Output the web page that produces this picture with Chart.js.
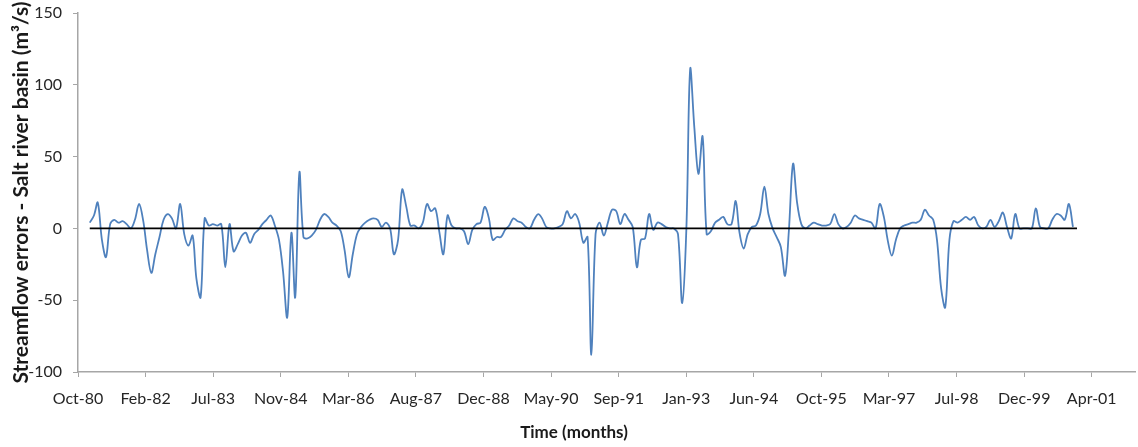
<!DOCTYPE html>
<html>
<head>
<meta charset="utf-8">
<script src="https://cdn.jsdelivr.net/npm/chart.js@4"></script>
<style>
  html, body { margin: 0; padding: 0; background: #fff; }
  #wrap { width: 1138px; height: 447px; position: relative; }
</style>
</head>
<body>
<div id="wrap"><canvas id="c"></canvas></div>
<script>
// ---- data (monthly streamflow errors, Jan 1981 - Dec 2000) ----
const startYear = 1981;
const errors = [
  /*1981*/ 4, 9, 18, -8, -20, 3, 6, 4, 5, 3, 0, 6,
  /*1982*/ 17, 5, -15, -31, -18, -6, 6, 10, 7, 0, 17, -4,
  /*1983*/ -12, -5, -35, -48, 7, 2, 3, 2, 3, -27, 3, -16,
  /*1984*/ -11, -5, -3, -10, -4, -1, 3, 6, 9, 2, -8, -30,
  /*1985*/ -62, -3, -48, 39, -6, -7, -5, -1, 6, 10, 8, 4,
  /*1986*/ 2, -2, -15, -34, -18, -4, 1, 4, 6, 7, 6, 1,
  /*1987*/ 4, 0, -18, -8, 27, 15, 2, 2, 0, 4, 17, 12,
  /*1988*/ 14, -3, -18, 9, 2, 0, 0, -2, -11, -1, 3, 4,
  /*1989*/ 15, 7, -8, -6, -6, -1, 2, 7, 5, 4, 1, 0,
  /*1990*/ 6, 10, 7, 1, 0, 0, 1, 3, 12, 7, 10, 4,
  /*1991*/ -10, -6, -88, -4, 4, -5, 4, 13, 12, 3, 10, 6,
  /*1992*/ 1, -27, -8, -7, 10, -1, 4, 3, 1, 0, 0, -4,
  /*1993*/ -52, 0, 111, 70, 38, 64, -4, -2, 4, 6, 8, 3,
  /*1994*/ 3, 19, -3, -14, -4, 1, 2, 10, 29, 10, 0, -6,
  /*1995*/ -13, -33, -2, 45, 18, 3, 0, 2, 4, 3, 2, 2,
  /*1996*/ 3, 10, 3, 0, 1, 4, 9, 7, 6, 5, 4, 0,
  /*1997*/ 17, 8, -8, -19, -8, 0, 2, 3, 4, 4, 6, 13,
  /*1998*/ 9, 6, -8, -42, -55, -8, 5, 4, 6, 8, 6, 8,
  /*1999*/ 2, 0, 1, 6, 1, 5, 11, 1, -7, 10, 0, 0,
  /*2000*/ 0, 0, 14, 1, 0, 0, 6, 10, 9, 6, 17, 1
];
// x axis: Excel-style date serials, ticks every 500 days
const tickSerials = [29500, 30000, 30500, 31000, 31500, 32000, 32500, 33000,
                     33500, 34000, 34500, 35000, 35500, 36000, 36500, 37000];
const tickLabels = ["Oct-80", "Feb-82", "Jul-83", "Nov-84", "Mar-86", "Aug-87", "Dec-88", "May-90",
                    "Sep-91", "Jan-93", "Jun-94", "Oct-95", "Mar-97", "Jul-98", "Dec-99", "Apr-01"];
const yTicks = [-100, -50, 0, 50, 100, 150];
const yTitle = "Streamflow errors - Salt river basin (m\u00B3/s)";
const xTitle = "Time (months)";

// month dates as Excel serial numbers
function serialOf(y, m) { return Date.UTC(y, m, 1) / 86400000 + 25569; }
const monthSerials = errors.map((_, i) => serialOf(startYear + Math.floor(i / 12), i % 12));
const seriesPoints = errors.map((v, i) => ({ x: monthSerials[i], y: v }));
const zeroPoints = [{ x: monthSerials[0], y: 0 }, { x: monthSerials[monthSerials.length - 1] + 30, y: 0 }];

const FONT = 'Lato, "Open Sans", "Liberation Sans", sans-serif';
const axisGrey = '#a6a6a6';

const xTitlePlugin = {
  id: 'xTitle',
  afterDraw(chart) {
    const ctx = chart.ctx;
    ctx.save();
    ctx.font = 'bold 17px ' + FONT;
    ctx.fillStyle = '#1a1a1a';
    ctx.textAlign = 'center';
    ctx.textBaseline = 'middle';
    ctx.fillText(xTitle, 574, 433);
    ctx.restore();
  }
};

new Chart(document.getElementById('c'), {
  type: 'line',
  data: {
    datasets: [
      {
        label: 'zero',
        data: zeroPoints,
        borderColor: '#000000',
        borderWidth: 1.6,
        pointRadius: 0,
        tension: 0,
        order: 0
      },
      {
        label: 'errors',
        data: seriesPoints,
        borderColor: '#4f81bd',
        borderWidth: 1.8,
        pointRadius: 0,
        tension: 0.35,
        fill: false,
        order: 1
      }
    ]
  },
  options: {
    responsive: true,
    maintainAspectRatio: false,
    animation: false,
    layout: { padding: { top: 13, right: 3, left: 0, bottom: 0 } },
    plugins: { legend: { display: false }, tooltip: { enabled: false } },
    scales: {
      x: {
        type: 'linear',
        min: 29500,
        max: 37320,
        afterBuildTicks(scale) { scale.ticks = tickSerials.map(v => ({ value: v })); },
        afterFit(scale) { scale.height = 75; },
        border: { display: true, color: axisGrey, width: 1.5 },
        grid: { display: true, drawOnChartArea: false, drawTicks: true, tickLength: 5, color: axisGrey, tickColor: axisGrey },
        ticks: {
          autoSkip: false, maxRotation: 0, minRotation: 0, padding: 12,
          color: '#262626', font: { family: FONT, size: 16 },
          callback(v) { const k = tickSerials.indexOf(v); return k >= 0 ? tickLabels[k] : ''; }
        },
        title: { display: false }
      },
      y: {
        type: 'linear',
        min: -100,
        max: 150,
        afterBuildTicks(scale) { scale.ticks = yTicks.map(v => ({ value: v })); },
        afterFit(scale) { scale.width = 78; scale.paddingTop = 0; scale.paddingBottom = 0; },
        border: { display: true, color: axisGrey, width: 1.5 },
        grid: { display: true, drawOnChartArea: false, drawTicks: true, tickLength: 5, color: axisGrey, tickColor: axisGrey },
        ticks: { padding: 11, color: '#262626', font: { family: FONT, size: 16 } },
        title: {
          display: true, text: yTitle, color: '#1a1a1a',
          font: { family: FONT, size: 21, weight: 'bold' },
          padding: { top: 9, bottom: 0 }
        }
      }
    }
  },
  plugins: [xTitlePlugin]
});
</script>
</body>
</html>
